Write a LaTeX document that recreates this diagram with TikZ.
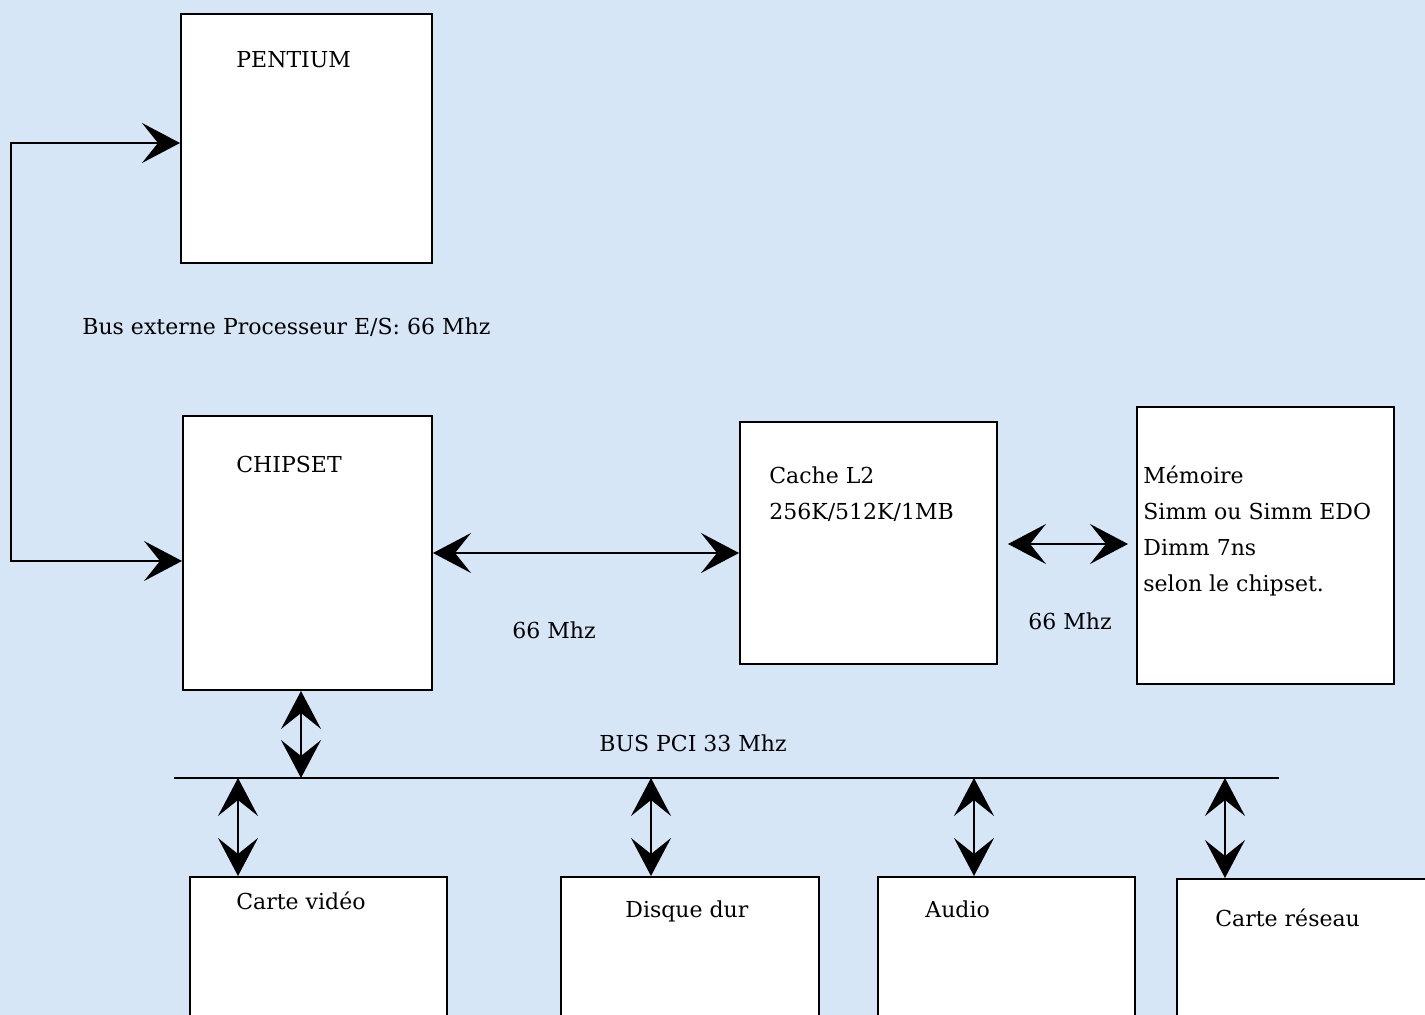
\documentclass[tikz,border=0pt]{standalone}
\usepackage{fontspec}
\setmainfont{DejaVu Serif}
\usepackage{tikz}
\usetikzlibrary{arrows.meta}
\definecolor{Fond}{RGB}{214,230,247}
\tikzset{
  boite/.style={draw=black, fill=white, line width=1pt, inner sep=0pt, anchor=north west},
  txt/.style={anchor=base west, inner sep=0pt, font=\fontsize{11}{13}\selectfont},
  fleche/.style={line width=1pt,
    {Stealth[length=19pt,width=20pt,inset=8pt]}-{Stealth[length=19pt,width=20pt,inset=8pt]}},
}

\begin{document}
\begin{tikzpicture}[x=0.5pt, y=-0.5pt]
    \fill[Fond] (0,0) rectangle (1425,1015);
    \useasboundingbox (0,0) rectangle (1425,1015);
    \clip (0,0) rectangle (1425,1015);

    \node[boite, minimum width=125.5pt, minimum height=124.5pt] (pentium) at (180,13) {};
    \node[boite, minimum width=124.5pt, minimum height=137pt] (chipset) at (182,415) {};
    \node[boite, minimum width=128.5pt, minimum height=121pt] (cache) at (739,421) {};
    \node[boite, minimum width=128.5pt, minimum height=138.5pt] (memoire) at (1136,406) {};
    \node[boite, minimum width=128.5pt, minimum height=100pt] (video) at (189,876) {};
    \node[boite, minimum width=129pt, minimum height=100pt] (disque) at (560,876) {};
    \node[boite, minimum width=128.5pt, minimum height=100pt] (audio) at (877,876) {};
    \node[boite, minimum width=130pt, minimum height=100pt] (reseau) at (1176,878) {};

    \node[txt] (tpentium) at (236,68) {PENTIUM};
    \node[txt] (tchipset) at (236,473) {CHIPSET};
    \node[txt] (tcache) at (769,484) {Cache L2};
    \node[txt] (ttaille) at (769,520) {256K/512K/1MB};
    \node[txt] (tmem) at (1143,484) {Mémoire};
    \node[txt] (tsimm) at (1143,520) {Simm ou Simm EDO};
    \node[txt] (tdimm) at (1143,556) {Dimm 7ns};
    \node[txt] (tselon) at (1143,592) {selon le chipset.};
    \node[txt] (tbusext) at (82,335) {Bus externe Processeur E/S: 66 Mhz};
    \node[txt] (tfreqa) at (512,639) {66 Mhz};
    \node[txt] (tfreqb) at (1028,630) {66 Mhz};
    \node[txt] (tpci) at (599,752) {BUS PCI 33 Mhz};
    \node[txt] (tvideo) at (236,909) {Carte vidéo};
    \node[txt] (tdisque) at (625,917) {Disque dur};
    \node[txt] (taudio) at (925,917) {Audio};
    \node[txt] (treseau) at (1215,926) {Carte réseau};

    \draw[fleche] (chipset.west |- 0,561) -- (11,561) |- (pentium.west |- 0,143);
    \draw[fleche] (chipset.east) -- (chipset.east -| cache.west);
    \draw[fleche, shorten <=5pt, shorten >=4pt] (cache.east |- 0,544) -- (memoire.west |- 0,544);

    \coordinate (bus) at (174,778);
    \coordinate (busfin) at (1279,778);
    \draw[line width=1pt] (bus) -- (busfin);
    \draw[fleche] (chipset.south -| 301,0) -- (bus -| 301,0);
    \foreach \x/\n in {238/video, 651/disque, 974/audio, 1225/reseau}
        \draw[fleche] (bus -| \x,0) -- (\n.north -| \x,0);
\end{tikzpicture}
\end{document}
